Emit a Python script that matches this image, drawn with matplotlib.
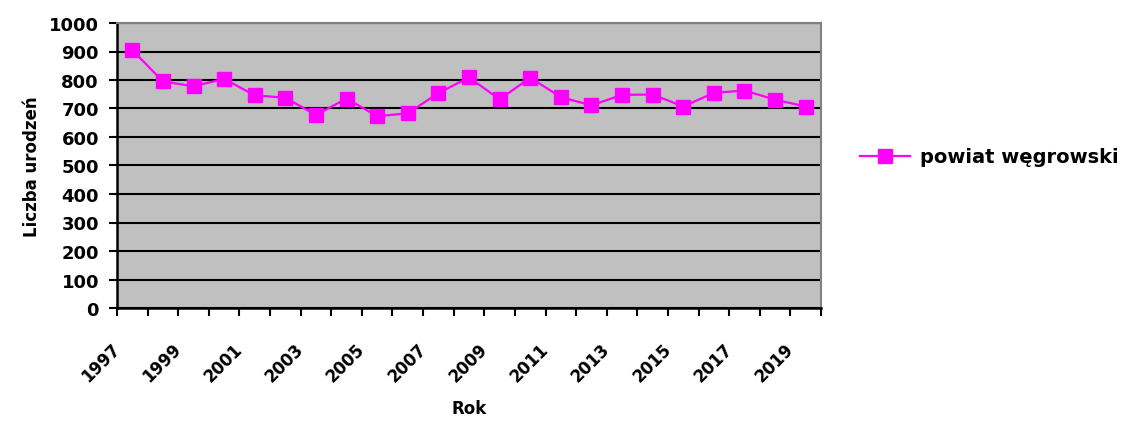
import matplotlib
matplotlib.use('Agg')
import matplotlib.pyplot as plt
import matplotlib.transforms as mtransforms
import numpy as np

plt.rcParams['font.family'] = ['DejaVu Sans']
plt.rcParams['font.weight'] = 'bold'

# dane
lata = [1997, 1998, 1999, 2000, 2001, 2002, 2003, 2004, 2005, 2006, 2007, 2008,
        2009, 2010, 2011, 2012, 2013, 2014, 2015, 2016, 2017, 2018, 2019]
urodzenia = [905, 795, 778, 804, 746, 738, 677, 735, 673, 683, 754, 809,
             732, 808, 740, 711, 748, 749, 707, 755, 763, 731, 707]
seria = 'powiat węgrowski'

fig = plt.figure(figsize=(11.21, 4.27), dpi=100)
ax = fig.add_axes([117/1121, 1 - 309/427, (821-117)/1121, (309-24)/427])
ax.set_facecolor('#c0c0c0')

x = np.arange(len(lata))
ax.plot(x, urodzenia, color='#ff00ff', lw=1.6, marker='s', markersize=10,
        markeredgecolor='#ff00ff', label=seria, zorder=3)

ax.set_ylim(0, 1000)
ax.set_yticks(np.arange(0, 1001, 100))
ax.yaxis.grid(True, color='black', lw=1.5)
ax.set_axisbelow(True)

ax.set_xlim(-0.5, len(lata) - 0.5)
ax.set_xticks(np.arange(-0.5, len(lata), 1.0))
ax.set_xticklabels([])
ax.set_xticks(x[::2], minor=True)
ax.set_xticklabels([str(r) for r in lata[::2]], minor=True, rotation=45,
                   ha='right', va='center', rotation_mode='anchor',
                   fontsize=12, fontweight='bold')
ax.tick_params(axis='x', which='minor', length=0, pad=27)
ax.tick_params(axis='x', which='major', direction='out', length=6, width=1.5)
ax.tick_params(axis='y', direction='out', length=6, width=1.5, labelsize=13, pad=7)
for t in ax.get_yticklabels():
    t.set_fontweight('bold')

# przesuniecie etykiet lat w lewo
offset = mtransforms.ScaledTranslation(-15/100, 0, fig.dpi_scale_trans)
for t in ax.get_xticklabels(minor=True):
    t.set_transform(t.get_transform() + offset)

for s in ['left', 'bottom']:
    ax.spines[s].set_color('black')
    ax.spines[s].set_linewidth(1.8)
for s in ['top', 'right']:
    ax.spines[s].set_color('#808080')
    ax.spines[s].set_linewidth(1.5)

ax.set_ylabel('Liczba urodzeń', fontsize=12, fontweight='bold', labelpad=6)
ax.set_xlabel('Rok', fontsize=12, fontweight='bold', labelpad=10)

ax.legend(loc='center left', bbox_to_anchor=(1.03, 0.53), frameon=False,
          handlelength=2.6, handletextpad=0.5,
          prop={'weight': 'bold', 'size': 14})

plt.savefig('out.png', dpi=100)
